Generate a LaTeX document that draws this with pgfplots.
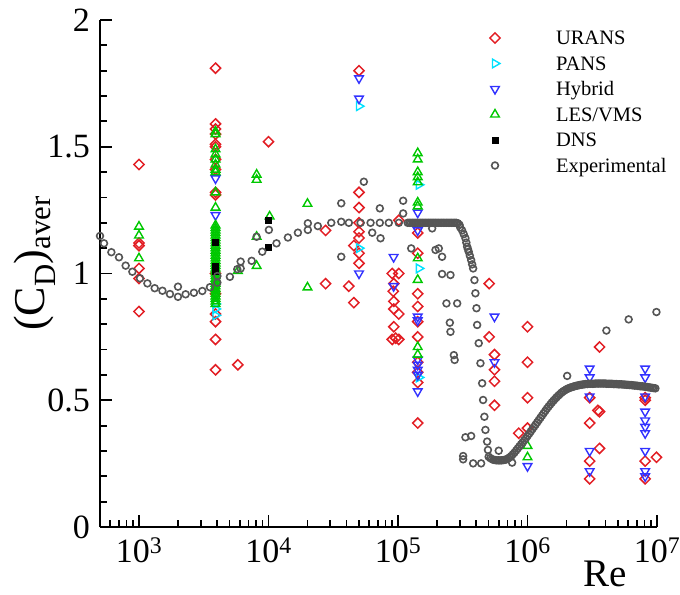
\documentclass[border=0pt]{standalone}
\usepackage{fontspec}
\setmainfont{Liberation Serif}
\usepackage{pgfplots}
\pgfplotsset{compat=1.18}
\definecolor{cUrans}{RGB}{226,30,36}
\definecolor{cPans}{RGB}{0,225,255}
\definecolor{cHyb}{RGB}{50,50,255}
\definecolor{cLes}{RGB}{0,200,0}
\definecolor{cExp}{RGB}{85,85,85}

\begin{document}
\begin{tikzpicture}
\begin{axis}[
  name=main,
  scale only axis, width=557pt, height=507pt,
  xmode=log, xmin=500, xmax=1e7, ymin=0, ymax=2,
  axis x line*=bottom, axis y line*=left,
  axis line style={-, line width=2.2pt},
  tick align=inside,
  major tick length=12pt, minor tick length=7pt,
  tick style={black, line width=1.8pt},
  ytick={0,0.5,1,1.5,2}, yticklabels={0,0.5,1,1.5,2},
  minor ytick={0.1,0.2,0.3,0.4,0.6,0.7,0.8,0.9,1.1,1.2,1.3,1.4,1.6,1.7,1.8,1.9},
  xtick={1e3,1e4,1e5,1e6,1e7},
  xticklabels={10\textsuperscript{3},10\textsuperscript{4},10\textsuperscript{5},10\textsuperscript{6},10\textsuperscript{7}},
  minor xtick={600,700,800,900,2e3,3e3,4e3,5e3,6e3,7e3,8e3,9e3,2e4,3e4,4e4,5e4,6e4,7e4,8e4,9e4,2e5,3e5,4e5,5e5,6e5,7e5,8e5,9e5,2e6,3e6,4e6,5e6,6e6,7e6,8e6,9e6},
  tick label style={font=\fontsize{34}{34}\selectfont, inner sep=0pt},
  yticklabel style={xshift=-10pt},
  xticklabel style={yshift=-11pt},
  xlabel={Re},
  xlabel style={font=\fontsize{39}{39}\selectfont, at={(axis description cs:0.907,-0.1183)}, anchor=base},
  ylabel={(C\textsubscript{D})\textsubscript{aver}},
  ylabel style={font=\fontsize{44}{44}\selectfont, at={(axis description cs:-0.117,0.52)}, anchor=center},
  clip=false,
  legend style={at={(axis description cs:0.6876,0.9865)}, anchor=north west, draw=none, fill=none,
    inner sep=0pt, outer sep=0pt, row sep=0pt, font=\fontsize{20.5}{24}\selectfont,
    cells={anchor=base west}, nodes={inner xsep=3pt, inner ysep=0pt, text height=18pt, text depth=7.5pt}},
  legend image code/.code={%
    \pgfpathmoveto{\pgfpoint{0pt}{0pt}}\pgfpathlineto{\pgfpoint{70pt}{0pt}}\pgfusepath{}%
    \draw[#1] plot coordinates {(12pt,6.85pt)};},
]
% URANS
\addplot[only marks, mark=square, mark size=3.6pt, color=cUrans, mark options={rotate=45, line width=1.5pt}] coordinates {
(1000,1.43) (1000,1.12) (1000,1.11) (1000,1.02) (1000,0.98) (1000,0.85)
(3900,1.81) (3900,1.59) (3900,1.57) (3900,1.55) (3900,1.51) (3900,1.50) (3900,1.45) (3900,1.41) (3900,1.32) (3900,1.31)
(3900,1.00) (3900,0.92) (3900,0.84) (3900,0.81) (3900,0.74) (3900,0.62)
(5800,0.64) (10000,1.52)
(27600,1.17) (27600,0.96) (41700,0.95) (45600,0.885) (45600,1.11)
(50000,1.80) (50000,1.32) (50000,1.26) (50000,1.20) (50000,1.165) (50000,1.14) (50000,1.08) (50000,1.04)
(90200,1.00) (101400,1.00) (92800,0.96) (91900,0.93) (92800,0.89) (92800,0.86) (101400,0.84) (92800,0.79)
(90200,0.74) (101400,0.74) (96000,0.745) (101400,1.21)
(142000,1.16) (142000,1.08) (142000,0.92) (142000,0.87) (142000,0.81) (142000,0.75) (142000,0.65) (142000,0.61) (142000,0.57) (142000,0.41)
(506000,0.96) (506000,0.75) (556000,0.68) (556000,0.62) (556000,0.575) (556000,0.48) (855000,0.37)
(1e6,0.79) (1e6,0.65) (1e6,0.51) (1e6,0.39)
(3.02e6,0.51) (3.02e6,0.41) (3.02e6,0.26) (3.02e6,0.19) (3.6e6,0.71) (3.6e6,0.455) (3.5e6,0.46) (3.6e6,0.31)
(8.1e6,0.51) (8.1e6,0.50) (8.1e6,0.26) (8.1e6,0.19) (9.9e6,0.275)
};
\addlegendentry{URANS}
% PANS
\addplot[only marks, mark=triangle, mark size=5pt, color=cPans, mark options={rotate=-90, line width=1.4pt}] coordinates {
(3900,0.88) (3900,0.86) (3900,0.835) (50000,1.66) (50000,1.10) (145000,1.35) (145000,1.02) (145000,0.59)
};
\addlegendentry{PANS}
% Hybrid
\addplot[only marks, mark=triangle, mark size=5pt, color=cHyb, mark options={rotate=180, line width=1.4pt}] coordinates {
(3900,1.375) (3900,1.23) (50000,1.77) (50000,1.69) (50000,1.00) (92500,1.065) (92500,0.95)
(142000,1.24) (142000,1.17) (142000,0.83) (142000,0.815) (142000,0.66) (142000,0.64) (142000,0.62) (142000,0.60) (142000,0.535)
(556000,0.83) (556000,0.65) (1e6,0.24)
(3.02e6,0.625) (3.02e6,0.59) (3.02e6,0.515) (3.02e6,0.30) (3.02e6,0.22)
(8.1e6,0.625) (8.1e6,0.59) (8.1e6,0.515) (8.1e6,0.455) (8.1e6,0.42) (8.1e6,0.395) (8.1e6,0.37) (8.1e6,0.30) (8.1e6,0.22) (8.1e6,0.20)
};
\addlegendentry{Hybrid}
% LES/VMS
\addplot[only marks, mark=triangle, mark size=5pt, color=cLes, mark options={line width=1.4pt}] coordinates {
(1000,1.185) (1000,1.15) (1000,1.06)
(3900,1.56) (3900,1.55) (3900,1.49) (3900,1.47) (3900,1.45) (3900,1.43) (3900,1.41) (3900,1.40) (3900,1.32) (3900,1.26)
(3900,1.19) (3900,1.18) (3900,1.17) (3900,1.16) (3900,1.15) (3900,1.14) (3900,1.13) (3900,1.12) (3900,1.11) (3900,1.10)
(3900,1.09) (3900,1.08) (3900,1.07) (3900,1.06) (3900,1.05) (3900,1.04) (3900,1.03) (3900,1.02) (3900,1.01) (3900,1.00)
(3900,0.99) (3900,0.98) (3900,0.97) (3900,0.96) (3900,0.95) (3900,0.94) (3900,0.93) (3900,0.92) (3900,0.91) (3900,0.90)
(3900,0.89) (3900,0.88)
(5800,1.01) (8100,1.39) (8100,1.37) (8100,1.145) (8100,1.03) (10200,1.225) (20000,1.275) (20000,0.945)
(142000,1.475) (142000,1.45) (142000,1.40) (142000,1.38) (142000,1.36) (142000,1.28) (142000,1.265) (142000,1.06) (142000,0.975)
(142000,0.71) (142000,0.68) (1e6,0.32) (1e6,0.275)
};
\addlegendentry{LES/VMS}
% DNS
\addplot[only marks, mark=square*, mark size=3pt, color=black] coordinates {
(3900,1.125) (3900,1.03) (3900,1.01) (10000,1.21) (10000,1.105)
};
\addlegendentry{DNS}
% Experimental
\addplot[only marks, mark=o, mark size=3.4pt, color=cExp, mark options={line width=1.6pt}] coordinates {
(500,1.148) (537,1.119) (612,1.084) (701,1.064) (789,1.031) (889,1.007) (1018,0.981) (1161,0.961) (1322,0.942) (1517,0.932)
(1734,0.919) (2000,0.908) (2000,0.948) (2291,0.918) (2655,0.924) (3083,0.931) (3532,0.946) (4027,0.964) (4027,0.99) (5035,0.987)
(5741,1.017) (6095,1.047) (6095,1.02) (7413,1.05) (8091,1.145) (8954,1.086) (10070,1.172) (11530,1.119) (14120,1.142) (16870,1.161)
(20130,1.172) (20130,1.198) (24040,1.187) (30530,1.2) (36460,1.204) (36460,1.277) (36460,1.066) (41720,1.2) (51400,1.2) (54480,1.362)
(61400,1.2) (63240,1.161) (72400,1.2) (72400,1.257) (73300,1.139) (84900,1.2) (101400,1.2) (109600,1.287) (109600,1.237)
(126500,1.099)
(1.1885e5,1.2) (1.2232e5,1.2) (1.2589e5,1.2) (1.2957e5,1.2) (1.3335e5,1.2) (1.3725e5,1.2) (1.4125e5,1.2) (1.4538e5,1.2)
(1.4962e5,1.2) (1.5399e5,1.2) (1.5849e5,1.2) (1.6312e5,1.2) (1.6788e5,1.2) (1.7278e5,1.2) (1.7783e5,1.2) (1.8302e5,1.2)
(1.8836e5,1.2) (1.9387e5,1.2) (1.9953e5,1.2) (2.0535e5,1.2) (2.1135e5,1.2) (2.1752e5,1.2) (2.2387e5,1.2) (2.3041e5,1.2)
(2.3714e5,1.2) (2.4406e5,1.2) (2.5119e5,1.2) (2.5852e5,1.2) (2.6607e5,1.2) (2.7384e5,1.2) (2.8184e5,1.2) (2.9007e5,1.198)
(2.9854e5,1.192) (3.02e5,1.182) (3.127e5,1.17) (3.22e5,1.155) (3.317e5,1.139) (3.37e5,1.122) (3.418e5,1.106) (3.47e5,1.096)
(3.518e5,1.086) (3.59e5,1.07) (3.671e5,1.053) (3.74e5,1.036) (3.804e5,1.02) (3.894e5,0.974) (3.961e5,0.922)
(4.036e5,0.863) (4.084e5,0.797) (4.200e5,0.725) (4.332e5,0.646) (4.466e5,0.567) (4.540e5,0.501) (4.647e5,0.435) (4.733e5,0.383)
(4.877e5,0.337) (4.95e5,0.304)
(183700,1.178) (194800,1.093) (206500,1.099) (219000,1.066) (219000,0.998) (254200,0.994) (236700,0.882) (286500,0.882) (251300,0.806)
(254200,0.770) (270000,0.678) (273700,0.659) (331700,0.354) (367100,0.359) (318400,0.280) (318400,0.267) (380400,0.251) (438500,0.251)
(599500,0.301) (760800,0.254) (2.024e6,0.596) (4.067e6,0.775) (6.04e6,0.819) (9.9e6,0.848)
(5.0119e5,0.277) (5.1582e5,0.272) (5.3088e5,0.268) (5.4639e5,0.265) (5.6234e5,0.264) (5.7876e5,0.263) (5.9566e5,0.263) (6.1306e5,0.263)
(6.3096e5,0.263) (6.4938e5,0.264) (6.6834e5,0.265) (6.8786e5,0.267) (7.0795e5,0.270) (7.2862e5,0.275) (7.4989e5,0.280) (7.7179e5,0.287)
(7.9433e5,0.294) (8.1752e5,0.302) (8.4140e5,0.310) (8.6596e5,0.318) (8.9125e5,0.326) (9.1728e5,0.334) (9.4406e5,0.342) (9.7163e5,0.350)
(1.0000e6,0.359) (1.0292e6,0.368) (1.0593e6,0.377) (1.0902e6,0.386) (1.1220e6,0.395) (1.1548e6,0.404) (1.1885e6,0.413) (1.2232e6,0.422)
(1.2589e6,0.431) (1.2957e6,0.440) (1.3335e6,0.449) (1.3725e6,0.458) (1.4125e6,0.467) (1.4538e6,0.475) (1.4962e6,0.483) (1.5399e6,0.491)
(1.5849e6,0.498) (1.6312e6,0.505) (1.6788e6,0.512) (1.7278e6,0.518) (1.7783e6,0.524) (1.8302e6,0.530) (1.8836e6,0.535) (1.9387e6,0.539)
(1.9953e6,0.543) (2.0535e6,0.546) (2.1135e6,0.549) (2.1752e6,0.551) (2.2387e6,0.553) (2.3041e6,0.555) (2.3714e6,0.557) (2.4406e6,0.558)
(2.5119e6,0.560) (2.5852e6,0.561) (2.6607e6,0.562) (2.7384e6,0.563) (2.8184e6,0.564) (2.9007e6,0.564) (2.9854e6,0.565) (3.0726e6,0.565)
(3.1623e6,0.565) (3.2546e6,0.565) (3.3497e6,0.566) (3.4475e6,0.566) (3.5481e6,0.566) (3.6517e6,0.566) (3.7584e6,0.566) (3.8681e6,0.566)
(3.9811e6,0.566) (4.0973e6,0.565) (4.2170e6,0.565) (4.3401e6,0.565) (4.4668e6,0.565) (4.5973e6,0.564) (4.7315e6,0.564) (4.8697e6,0.564)
(5.0119e6,0.563) (5.1582e6,0.563) (5.3088e6,0.563) (5.4639e6,0.562) (5.6234e6,0.562) (5.7876e6,0.561) (5.9566e6,0.561) (6.1306e6,0.560)
(6.3096e6,0.560) (6.4938e6,0.559) (6.6834e6,0.558) (6.8786e6,0.558) (7.0795e6,0.557) (7.2862e6,0.556) (7.4989e6,0.555) (7.7179e6,0.555)
(7.9433e6,0.554) (8.1752e6,0.553) (8.4140e6,0.552) (8.6596e6,0.551) (8.9125e6,0.550) (9.1728e6,0.549) (9.4406e6,0.548) (9.7163e6,0.547)
};
\addlegendentry{Experimental}
\end{axis}
\pgfresetboundingbox
\path[use as bounding box] ([xshift=-100pt,yshift=-67pt]main.south west) rectangle ([xshift=23pt,yshift=20pt]main.north east);
\end{tikzpicture}
\end{document}
